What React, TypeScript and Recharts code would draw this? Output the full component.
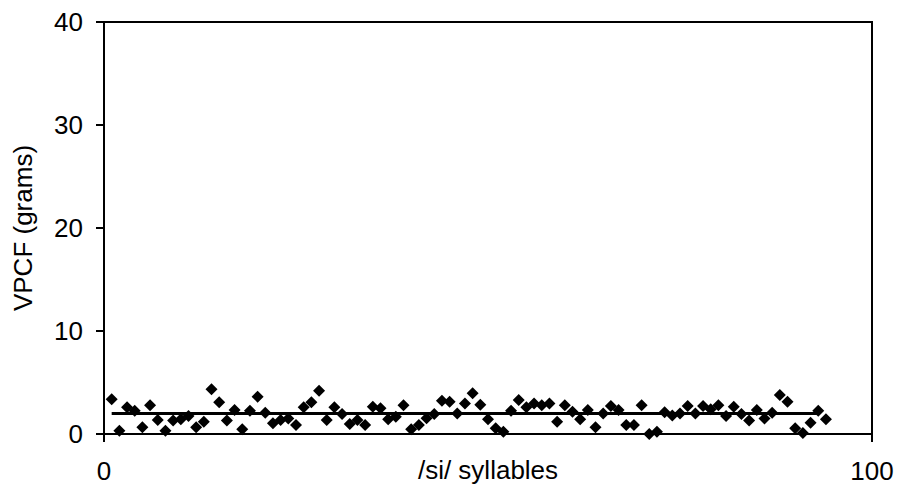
import { ScatterChart, Scatter, XAxis, YAxis, ReferenceArea } from "recharts";

// VPCF per /si/ syllable (syllable n = index + 1)
const vpcf = [
  3.37, 0.32, 2.6, 2.26, 0.65, 2.8, 1.36, 0.32, 1.3, 1.43,
  1.75, 0.65, 1.2, 4.34, 3.08, 1.3, 2.33, 0.46, 2.26, 3.62,
  2.07, 1.04, 1.36, 1.5, 0.87, 2.6, 3.08, 4.2, 1.36, 2.6,
  1.94, 0.97, 1.36, 0.87, 2.65, 2.5, 1.43, 1.68, 2.8, 0.46,
  0.87, 1.52, 1.94, 3.23, 3.14, 2.0, 2.97, 3.95, 2.85, 1.43,
  0.55, 0.22, 2.26, 3.3, 2.6, 2.97, 2.8, 2.97, 1.2, 2.8,
  2.17, 1.43, 2.33, 0.65, 2.0, 2.72, 2.33, 0.87, 0.87, 2.8,
  0.0, 0.22, 2.1, 1.8, 2.0, 2.72, 2.0, 2.72, 2.4, 2.8,
  1.75, 2.65, 1.94, 1.3, 2.33, 1.5, 2.07, 3.79, 3.14, 0.55,
  0.1, 1.1, 2.26, 1.43,
];

// mean line
const meanX = [1, 93];
const meanValue = 2.0;

const xTicks = [0, 100];
const yTicks = [0, 10, 20, 30, 40];

const points = vpcf.map((v, i) => ({ x: i + 1, y: v }));
const meanLine = meanX.map((x) => ({ x, y: meanValue }));

const font = "'Liberation Sans', Arial, sans-serif";

function Diamond(props: any) {
  const { cx, cy } = props;
  if (cx == null || cy == null) return null;
  const r = 6;
  return (
    <path
      d={`M${cx},${cy - r}L${cx + r},${cy}L${cx},${cy + r}L${cx - r},${cy}Z`}
      fill="#000"
    />
  );
}

export default function App() {
  return (
    <div style={{ position: "absolute", left: 0, top: 0, width: 898, height: 485, background: "#fff" }}>
      <ScatterChart
        width={898}
        height={485}
        margin={{ top: 22, right: 26, left: 0, bottom: 0 }}
        style={{ fontFamily: font }}
      >
        <XAxis
          type="number"
          dataKey="x"
          domain={[0, 100]}
          ticks={xTicks}
          height={51}
          tickSize={8}
          tickMargin={20}
          stroke="#000"
          strokeWidth={2}
          tick={{ fill: "#000", fontSize: 26, fontFamily: font }}
          label={{
            value: "/si/ syllables",
            position: "insideBottom",
            offset: 6,
            style: { fill: "#000", fontSize: 26, fontFamily: font },
          }}
        />
        <YAxis
          type="number"
          dataKey="y"
          domain={[0, 40]}
          ticks={yTicks}
          width={104}
          tickSize={8}
          tickMargin={13}
          stroke="#000"
          strokeWidth={2}
          tick={{ fill: "#000", fontSize: 26, fontFamily: font }}
          label={{
            value: "VPCF (grams)",
            angle: -90,
            position: "insideLeft",
            offset: 23,
            style: { fill: "#000", fontSize: 26, fontFamily: font, textAnchor: "middle" },
          }}
        />
        <ReferenceArea x1={0} x2={100} y1={0} y2={40} fill="none" stroke="#000" strokeWidth={2} />
        <Scatter
          data={meanLine}
          line={{ stroke: "#000", strokeWidth: 3 }}
          shape={() => null}
          isAnimationActive={false}
        />
        <Scatter data={points} shape={<Diamond />} isAnimationActive={false} />
      </ScatterChart>
    </div>
  );
}
